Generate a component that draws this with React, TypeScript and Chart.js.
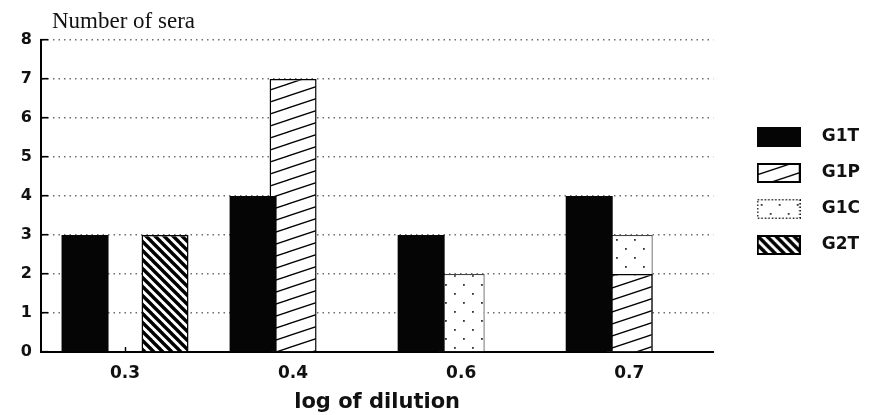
import { useEffect, useRef } from 'react';
import { Chart, registerables } from 'chart.js';

Chart.register(...registerables);

// ---- data ----
const categories = ['0.3', '0.4', '0.6', '0.7'];
const seriesNames = ['G1T', 'G1P', 'G1C', 'G2T'];
const g1tValues = [3, 4, 3, 4];
const g1pValues = [null, 7, null, 2];
const g1cValues = [null, null, 2, 3];
const g2tValues = [3, null, null, null];
const yMin = 0;
const yMax = 8;
const yStep = 1;
const xTitle = 'log of dilution';
const yCaption = 'Number of sera';

// ---- pattern helpers ----
function makeTile(w: number, h: number, draw: (ctx: CanvasRenderingContext2D) => void) {
  const c = document.createElement('canvas');
  c.width = w;
  c.height = h;
  const ctx = c.getContext('2d')!;
  ctx.fillStyle = '#ffffff';
  ctx.fillRect(0, 0, w, h);
  draw(ctx);
  return c;
}

function patternFrom(tile: HTMLCanvasElement) {
  return tile.getContext('2d')!.createPattern(tile, 'repeat')!;
}

function hatchUpTile() {
  return makeTile(36, 12, (ctx) => {
    ctx.strokeStyle = '#000';
    ctx.lineWidth = 1.3;
    for (const k of [-1, 0, 1]) {
      ctx.beginPath();
      ctx.moveTo(-2, 12 + 12 * k + 2 / 3);
      ctx.lineTo(38, 12 * k - 2 / 3);
      ctx.stroke();
    }
  });
}

function hatchDownTile() {
  const s = 9;
  return makeTile(s, s, (ctx) => {
    ctx.strokeStyle = '#000';
    ctx.lineWidth = 3.4;
    for (const x0 of [-s, 0, s]) {
      ctx.beginPath();
      ctx.moveTo(x0 - 2, -2);
      ctx.lineTo(x0 + s + 2, s + 2);
      ctx.stroke();
    }
  });
}

function dotTile() {
  return makeTile(18, 18, (ctx) => {
    ctx.fillStyle = '#333';
    ctx.fillRect(4, 5, 1.8, 1.8);
    ctx.fillRect(13, 14, 1.8, 1.8);
  });
}

function legendImage(fill: string | CanvasPattern, stroke: string, lw: number, dash: number[] = []) {
  const c = document.createElement('canvas');
  c.width = 44;
  c.height = 20;
  const ctx = c.getContext('2d')!;
  ctx.fillStyle = fill;
  ctx.fillRect(0, 0, 44, 20);
  if (lw > 0) {
    ctx.strokeStyle = stroke;
    ctx.lineWidth = lw;
    ctx.setLineDash(dash);
    ctx.strokeRect(lw / 2, lw / 2, 44 - lw, 20 - lw);
  }
  return c;
}

const captionPlugin = {
  id: 'yCaption',
  afterDraw(chart: any) {
    const { ctx, chartArea } = chart;
    ctx.save();
    ctx.font = '23px "Liberation Serif"';
    ctx.fillStyle = '#111';
    ctx.textBaseline = 'alphabetic';
    ctx.textAlign = 'left';
    ctx.fillText(yCaption, chartArea.left + 11, chartArea.top - 12);
    ctx.restore();
  },
};

export default function App() {
  const ref = useRef<HTMLCanvasElement>(null);

  useEffect(() => {
    document.body.style.margin = '0';
    const canvas = ref.current!;

    const upPat = patternFrom(hatchUpTile());
    const downPat = patternFrom(hatchDownTile());
    const dotPat = patternFrom(dotTile());

    const legendImgs = [
      legendImage('#050505', '#000', 0),
      legendImage(upPat, '#000', 2),
      legendImage(dotPat, '#222', 1.6, [1.5, 2]),
      legendImage(downPat, '#000', 2),
    ];

    const tickFont = { family: 'DejaVu Sans', weight: 'bold' as const, size: 17 };

    const chart = new Chart(canvas, {
      type: 'bar',
      data: {
        labels: categories,
        datasets: [
          { label: seriesNames[0], data: g1tValues, stack: 'a', backgroundColor: '#050505', borderWidth: 0 },
          { label: seriesNames[1], data: g1pValues as any, stack: 'b', backgroundColor: upPat, borderColor: '#000', borderWidth: 1.5 },
          { label: seriesNames[2], data: g1cValues as any, stack: 'b', backgroundColor: dotPat, borderColor: '#444', borderWidth: 1.2 },
          { label: seriesNames[3], data: g2tValues as any, stack: 'c', backgroundColor: downPat, borderColor: '#000', borderWidth: 1.5 },
        ],
      },
      options: {
        responsive: false,
        animation: false,
        events: [],
        datasets: {
          bar: { categoryPercentage: 0.714, barPercentage: 1.175 },
        } as any,
        layout: { padding: { top: 40, left: 0, right: 0, bottom: 0 } },
        plugins: {
          tooltip: { enabled: false },
          title: { display: false },
          legend: {
            display: true,
            position: 'right',
            fullSize: false,
            align: 'start',
            title: {
              display: true,
              text: ' ',
              font: { size: 10 },
              padding: { top: 57.5, bottom: 0 },
            },
            labels: {
              usePointStyle: true,
              pointStyleWidth: 69,
              padding: 19,
              color: '#111',
              font: { family: 'DejaVu Sans', weight: 'bold', size: 17 },
              generateLabels: (ch: any) =>
                ch.data.datasets.map((ds: any, i: number) => ({
                  text: ds.label,
                  pointStyle: legendImgs[i],
                  fillStyle: 'transparent',
                  strokeStyle: 'transparent',
                  lineWidth: 0,
                  hidden: false,
                  datasetIndex: i,
                  fontColor: '#111',
                })),
            },
          },
        },
        scales: {
          x: {
            type: 'category',
            offset: true,
            border: { display: true, color: '#000', width: 2 },
            grid: {
              display: true,
              offset: false,
              drawOnChartArea: false,
              drawTicks: true,
              tickLength: -5,
              tickColor: '#000',
              tickWidth: 1.5,
            },
            ticks: { padding: 16, color: '#111', font: tickFont },
            title: {
              display: true,
              text: xTitle,
              color: '#111',
              font: { family: 'DejaVu Sans', weight: 'bold', size: 21 },
              padding: { top: 0, bottom: 0 },
            },
            afterFit: (s: any) => {
              s.height = 63;
            },
          },
          y: {
            type: 'linear',
            min: yMin,
            max: yMax,
            stacked: false,
            border: { display: true, color: '#000', width: 2, dash: [1.5, 4] },
            grid: {
              color: '#6e6e6e',
              lineWidth: 1.4,
              drawTicks: true,
              tickLength: -7,
              tickColor: '#000',
              tickWidth: 1.6,
            },
            ticks: {
              stepSize: yStep,
              padding: 16,
              color: '#111',
              font: { family: 'DejaVu Sans', weight: 'bold', size: 16 },
            },
            afterFit: (s: any) => {
              s.width = 41;
            },
          },
          y2: {
            type: 'linear',
            position: 'right',
            display: true,
            grid: { display: false, drawOnChartArea: false, drawTicks: false },
            border: { display: false },
            ticks: { display: false },
            afterFit: (s: any) => {
              s.width = 12;
            },
          },
        },
      } as any,
      plugins: [captionPlugin],
    });

    return () => chart.destroy();
  }, []);

  return (
    <div style={{ width: 870, height: 415, background: '#fff' }}>
      <canvas ref={ref} width={870} height={415} />
    </div>
  );
}
